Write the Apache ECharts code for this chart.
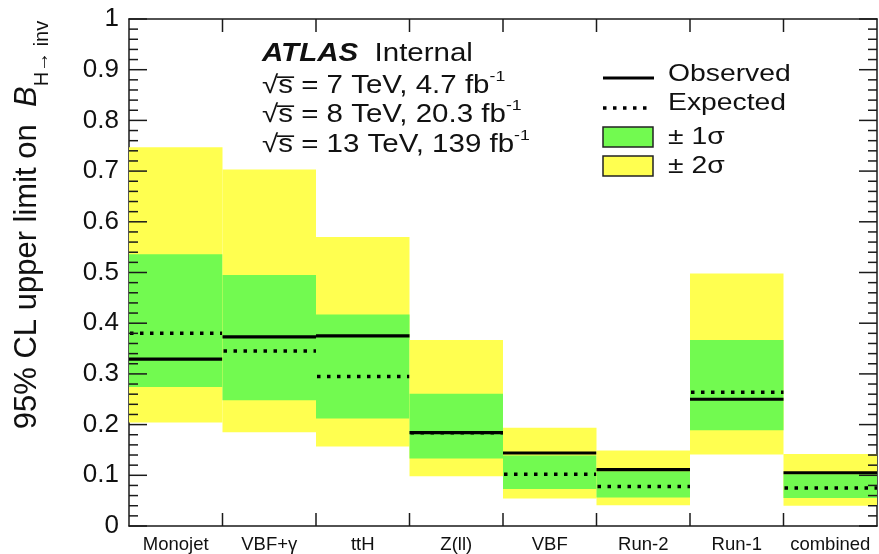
<!DOCTYPE html>
<html>
<head>
<meta charset="utf-8">
<script src="https://cdn.jsdelivr.net/npm/echarts@6/dist/echarts.min.js"></script>
<style>
  html, body { margin: 0; padding: 0; background: #fff; }
  #chart { width: 879px; height: 554px; }
</style>
</head>
<body>
<div id="chart"></div>
<script>
// Upper limits on B(H -> inv) per analysis channel
const categories = ['Monojet', 'VBF+γ', 'ttH', 'Z(ll)', 'VBF', 'Run-2', 'Run-1', 'combined'];
const observed   = [0.329, 0.373, 0.375, 0.184, 0.144, 0.111, 0.250, 0.105];
const expected   = [0.380, 0.345, 0.295, 0.184, 0.102, 0.078, 0.264, 0.075];
const band1Low   = [0.274, 0.248, 0.212, 0.133, 0.073, 0.056, 0.189, 0.055];
const band1High  = [0.536, 0.495, 0.417, 0.261, 0.139, 0.108, 0.367, 0.102];
const band2Low   = [0.204, 0.185, 0.157, 0.098, 0.054, 0.041, 0.141, 0.040];
const band2High  = [0.747, 0.703, 0.570, 0.367, 0.194, 0.149, 0.498, 0.142];
const yTicks = { min: 0, max: 1, interval: 0.1, minorPerMajor: 5 };

const GREEN = '#72fa50';
const YELLOW = '#ffff50';
const FONT = '"Liberation Sans", Arial, Helvetica, sans-serif';
const AXIS_COLOR = '#1a1a1a';

const rows = categories.map((c, i) => [i, band2Low[i], band2High[i], band1Low[i], band1High[i], observed[i], expected[i]]);

function renderBin(params, api) {
  const i = api.value(0);
  const w = api.size([1, 0])[0];
  const xl = api.coord([i, 0])[0] - w / 2;
  const xr = xl + w;
  const y = v => api.coord([i, v])[1];
  const y2lo = y(api.value(1)), y2hi = y(api.value(2));
  const y1lo = y(api.value(3)), y1hi = y(api.value(4));
  const yObs = y(api.value(5)), yExp = y(api.value(6));
  return {
    type: 'group',
    children: [
      { type: 'rect', shape: { x: xl, y: y2hi, width: w, height: y2lo - y2hi }, style: { fill: YELLOW } },
      { type: 'rect', shape: { x: xl, y: y1hi, width: w, height: y1lo - y1hi }, style: { fill: GREEN } },
      { type: 'line', shape: { x1: xl + 1, y1: yExp, x2: xr, y2: yExp },
        style: { stroke: '#000', lineWidth: 3.5, lineDash: [3.5, 6.5] } },
      { type: 'line', shape: { x1: xl, y1: yObs, x2: xr, y2: yObs },
        style: { stroke: '#000', lineWidth: 3.2 } }
    ]
  };
}

// inward tick marks on all four sides of the frame, placed with the axis scales
function renderFrameTicks(params, api) {
  const bw = api.size([1, 0])[0];
  const xLeft = api.coord([0, yTicks.min])[0] - bw / 2;
  const xRight = xLeft + bw * categories.length;
  const yBottom = api.coord([0, yTicks.min])[1];
  const yTop = api.coord([0, yTicks.max])[1];
  const style = { stroke: AXIS_COLOR, lineWidth: 1.5 };
  const children = [];
  const minorStep = yTicks.interval / yTicks.minorPerMajor;
  const nMinor = Math.round((yTicks.max - yTicks.min) / minorStep);
  for (let k = 0; k <= nMinor; k++) {
    const yy = api.coord([0, yTicks.min + k * minorStep])[1];
    const len = k % yTicks.minorPerMajor === 0 ? 18 : 9;
    children.push({ type: 'line', shape: { x1: xLeft, y1: yy, x2: xLeft + len, y2: yy }, style: style });
    children.push({ type: 'line', shape: { x1: xRight - len, y1: yy, x2: xRight, y2: yy }, style: style });
  }
  for (let j = 1; j < categories.length; j++) {
    const xx = xLeft + j * bw;
    children.push({ type: 'line', shape: { x1: xx, y1: yBottom, x2: xx, y2: yBottom - 13 }, style: style });
    children.push({ type: 'line', shape: { x1: xx, y1: yTop, x2: xx, y2: yTop + 13 }, style: style });
  }
  return { type: 'group', children: children };
}

function valueAxis(position, showLabels) {
  return {
    type: 'value',
    position: position,
    min: yTicks.min,
    max: yTicks.max,
    interval: yTicks.interval,
    axisLine: { show: true, lineStyle: { color: AXIS_COLOR, width: 1.5 } },
    axisTick: { show: false },
    minorTick: { show: false },
    splitLine: { show: false },
    minorSplitLine: { show: false },
    axisLabel: showLabels
      ? { show: true, fontFamily: FONT, fontSize: 26, color: '#111', margin: 10 }
      : { show: false }
  };
}

function categoryAxis(position, showLabels) {
  return {
    type: 'category',
    position: position,
    data: categories,
    boundaryGap: true,
    axisLine: { show: true, onZero: false, lineStyle: { color: AXIS_COLOR, width: 1.5 } },
    axisTick: { show: false },
    splitLine: { show: false },
    axisLabel: showLabels
      ? { show: true, interval: 0, fontFamily: FONT, fontSize: 18.5, color: '#111', margin: 9 }
      : { show: false }
  };
}

// rich styles for the energy / luminosity lines
const energyRich = {
  t: { fontFamily: FONT, fontSize: 25, lineHeight: 30, verticalAlign: 'bottom', fill: '#111' },
  u: { fontFamily: FONT, fontSize: 15, lineHeight: 15, verticalAlign: 'top', fill: '#111' }
};

function energyLine(y, text) {
  return {
    type: 'text', x: 0, y: y, scaleX: 1.18,
    style: { text: text, align: 'left', verticalAlign: 'middle', rich: energyRich }
  };
}

function legendText(y, text) {
  return {
    type: 'text', x: 65, y: y, scaleX: 1.18,
    style: { text: text, font: '24px ' + FONT, fill: '#111', align: 'left', verticalAlign: 'middle' }
  };
}

const option = {
  animation: false,
  backgroundColor: '#fff',
  grid: { left: 129, right: 2, top: 19, bottom: 27, containLabel: false },
  xAxis: [categoryAxis('bottom', true), categoryAxis('top', false)],
  yAxis: [valueAxis('left', true), valueAxis('right', false)],
  series: [
    {
      type: 'custom',
      renderItem: renderBin,
      data: rows,
      encode: { x: 0, y: [1, 2] },
      silent: true,
      z: 2
    },
    {
      type: 'custom',
      renderItem: renderFrameTicks,
      data: [[0, yTicks.min]],
      encode: { x: 0, y: 1 },
      clip: false,
      silent: true,
      z: 5
    }
  ],
  graphic: [
    // vertical axis title
    {
      type: 'text', x: 32, y: 225, rotation: Math.PI / 2,
      style: {
        text: '{a|95% CL upper limit on  }{b|B}{s|H→ inv}',
        align: 'center', verticalAlign: 'middle', fill: '#111',
        rich: {
          a: { fontFamily: FONT, fontSize: 31, lineHeight: 40, verticalAlign: 'top', fill: '#111' },
          b: { fontFamily: FONT, fontSize: 31, fontStyle: 'italic', lineHeight: 40, verticalAlign: 'top', fill: '#111' },
          s: { fontFamily: FONT, fontSize: 20, lineHeight: 20, verticalAlign: 'bottom', fill: '#111' }
        }
      }
    },
    // experiment label
    {
      type: 'group', x: 262, y: 0,
      children: [
        {
          type: 'text', x: 0, y: 54, scaleX: 1.18,
          style: {
            text: '{b|ATLAS}{n|  Internal}', align: 'left', verticalAlign: 'middle',
            rich: {
              b: { fontFamily: FONT, fontSize: 25, fontWeight: 'bold', fontStyle: 'italic', fill: '#111' },
              n: { fontFamily: FONT, fontSize: 25, fill: '#111' }
            }
          }
        },
        energyLine(84, '{t|√s̅ = 7 TeV, 4.7 fb}{u|-1}'),
        energyLine(113, '{t|√s̅ = 8 TeV, 20.3 fb}{u|-1}'),
        energyLine(143, '{t|√s̅ = 13 TeV, 139 fb}{u|-1}')
      ]
    },
    // legend
    {
      type: 'group', x: 603, y: 0,
      children: [
        { type: 'line', shape: { x1: 0, y1: 78, x2: 51, y2: 78 }, style: { stroke: '#000', lineWidth: 3.2 } },
        { type: 'line', shape: { x1: 0, y1: 108, x2: 50, y2: 108 }, style: { stroke: '#000', lineWidth: 3.5, lineDash: [3.5, 6.5] } },
        { type: 'rect', shape: { x: 0, y: 127, width: 50, height: 20 }, style: { fill: GREEN, stroke: '#222', lineWidth: 1.5 } },
        { type: 'rect', shape: { x: 0, y: 156, width: 50, height: 20 }, style: { fill: YELLOW, stroke: '#222', lineWidth: 1.5 } },
        legendText(74, 'Observed'),
        legendText(103, 'Expected'),
        legendText(137, '± 1σ'),
        legendText(166, '± 2σ')
      ]
    }
  ]
};

const chart = echarts.init(document.getElementById('chart'), null, { renderer: 'canvas' });
chart.setOption(option);
</script>
</body>
</html>
